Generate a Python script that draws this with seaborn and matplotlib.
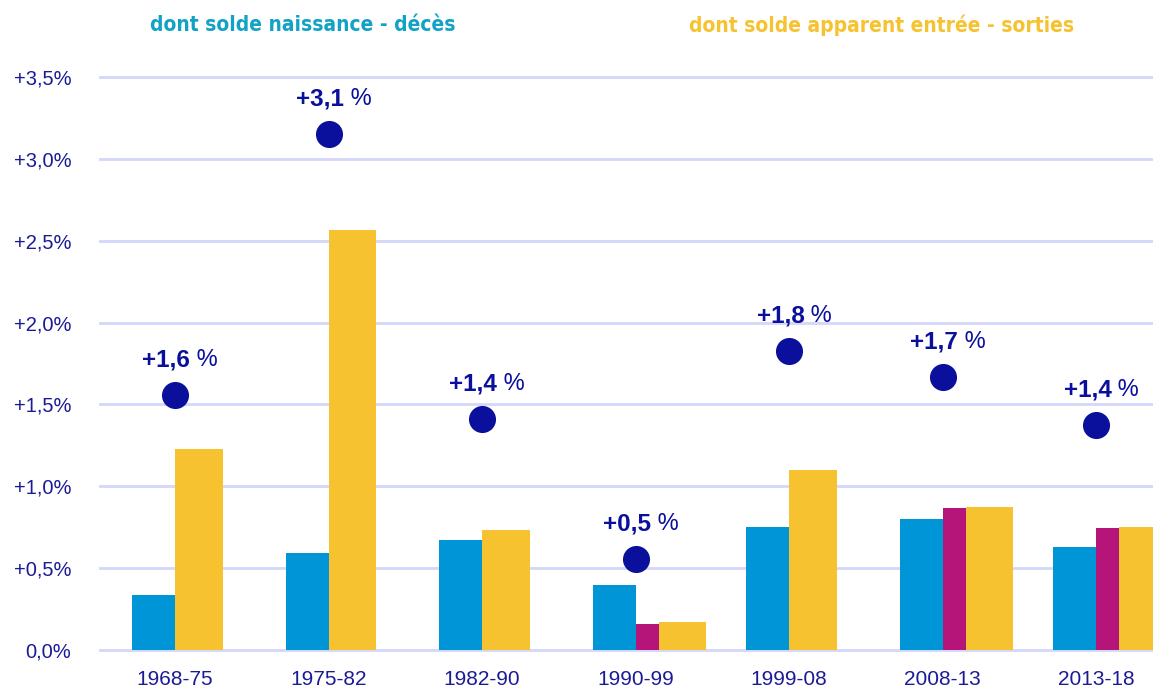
import numpy as np
import pandas as pd
import seaborn as sns
import matplotlib.pyplot as plt
from matplotlib import font_manager

# data (annual growth rate, %)
periods = ['1968-75', '1975-82', '1982-90', '1990-99', '1999-08', '2008-13', '2013-18']
naturel = [0.336, 0.593, 0.672, 0.397, 0.751, 0.800, 0.629]
autre = [np.nan, np.nan, np.nan, 0.159, np.nan, 0.867, 0.745]
migratoire = [1.228, 2.566, 0.733, 0.171, 1.100, 0.873, 0.751]
total = [1.558, 3.152, 1.411, 0.556, 1.826, 1.668, 1.374]
total_labels = ['+1,6', '+3,1', '+1,4', '+0,5', '+1,8', '+1,7', '+1,4']
yticks = [0, 0.5, 1.0, 1.5, 2.0, 2.5, 3.0, 3.5]
ytick_labels = ['0,0%', '+0,5%', '+1,0%', '+1,5%', '+2,0%', '+2,5%', '+3,0%', '+3,5%']

BLUE = '#0095d7'
MAGENTA = '#b51478'
YELLOW = '#f7c22f'
DOT = '#0a0f9c'
TXT = '#1b1b96'
GRID = '#d4d6fa'

sns.set_style('white')
plt.rcParams['font.family'] = ['Liberation Sans', 'DejaVu Sans']

# look for a condensed face for the two headings
narrow = None
for f in font_manager.fontManager.ttflist:
    n = f.name.lower()
    if 'condensed' in n or 'narrow' in n or f.stretch in ('condensed', 'semi-condensed', 'extra-condensed', 62.5, 75, 87.5):
        narrow = f.fname
        if 'bold' in f.fname.lower():
            break
if narrow:
    head_font = font_manager.FontProperties(fname=narrow, size=15, weight='bold')
else:
    head_font = font_manager.FontProperties(family=['Liberation Sans', 'DejaVu Sans'], size=15, weight='bold')

df = pd.DataFrame({'periode': periods, 'naturel': naturel, 'autre': autre,
                   'migratoire': migratoire, 'total': total})
df['x'] = np.arange(len(df))

fig = plt.figure(figsize=(11.53, 6.9), dpi=100)
ax = fig.add_axes([0.0859, 0.0532, 0.9141, 0.8400])

w_blue, w_mag, w_yel = 0.28, 0.15, 0.31
has_mag = ~df['autre'].isna()
# blue bar ends at the category centre, the others start there
ax.bar(df['x'] - w_blue, df['naturel'], width=w_blue, align='edge', color=BLUE, lw=0, zorder=2)
ax.bar(df['x'][has_mag], df['autre'][has_mag], width=w_mag, align='edge', color=MAGENTA, lw=0, zorder=2)
yel_x = df['x'] + np.where(has_mag, w_mag, 0)
ax.bar(yel_x, df['migratoire'], width=w_yel, align='edge', color=YELLOW, lw=0, zorder=2)

sns.scatterplot(data=df, x='x', y='total', s=380, color=DOT, edgecolor=DOT,
                linewidth=0, ax=ax, zorder=4, legend=False)

for xi, yi, lab in zip(df['x'], df['total'], total_labels):
    ax.annotate(lab, (xi, yi), xytext=(11, 25), textcoords='offset points',
                ha='right', va='center', fontsize=17.5, fontweight='bold', color=DOT)
    ax.annotate(' %', (xi, yi), xytext=(11, 25), textcoords='offset points',
                ha='left', va='center', fontsize=17, color=DOT)

for t in yticks:
    ax.axhline(t, color=GRID, lw=2, zorder=1)

ax.set_xlim(-0.495, 6.37)
ax.set_ylim(-0.02, 3.52)
ax.set_yticks(yticks)
ax.set_yticklabels(ytick_labels)
ax.set_xticks(df['x'])
ax.set_xticklabels(periods)
ax.tick_params(axis='y', labelsize=14.5, labelcolor=TXT, length=0, pad=20)
ax.tick_params(axis='x', labelsize=15, labelcolor=TXT, length=0, pad=12)
ax.set_xlabel('')
ax.set_ylabel('')
sns.despine(ax=ax, left=True, bottom=True)

fig.text(303 / 1153, 1 - 25 / 690, 'dont solde naissance - décès', ha='center', va='center',
         fontproperties=head_font, color='#12a2c6')
fig.text(882 / 1153, 1 - 25 / 690, 'dont solde apparent entrée - sorties', ha='center', va='center',
         fontproperties=head_font, color=YELLOW)

fig.savefig('out.png', dpi=100)
